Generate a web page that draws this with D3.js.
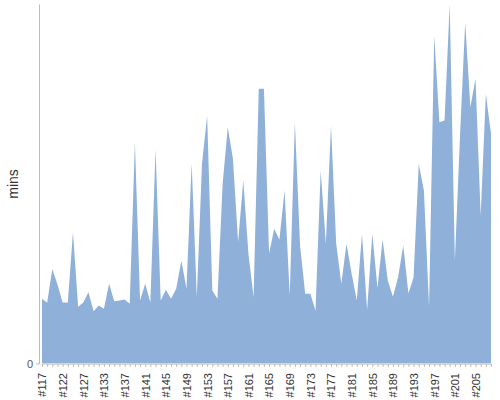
<!DOCTYPE html>
<html>
<head>
<meta charset="utf-8">
<script src="https://cdn.jsdelivr.net/npm/d3@7"></script>
<style>
  body { margin: 0; background: #fff; }
  svg { display: block; font-family: "Liberation Sans", Arial, sans-serif; }
</style>
</head>
<body>
<svg></svg>
<script>
// episode labels, one per data point
let episodes = [
    '#117', '#118', '#119', '#121', '#122', '#123', '#124', '#126', '#127', '#128',
    '#130', '#131', '#133', '#134', '#135', '#136', '#137', '#138', '#139', '#140',
    '#141', '#142', '#143', '#144', '#145', '#146', '#147', '#148', '#149', '#150',
    '#151', '#152', '#153', '#154', '#155', '#156', '#157', '#158', '#159', '#160',
    '#161', '#162', '#163', '#164', '#165', '#166', '#167', '#168', '#169', '#170',
    '#171', '#172', '#173', '#174', '#175', '#176', '#177', '#178', '#179', '#180',
    '#181', '#182', '#183', '#184', '#185', '#186', '#187', '#188', '#189', '#190',
    '#191', '#192', '#193', '#194', '#195', '#196', '#197', '#198', '#199', '#200',
    '#201', '#202', '#203', '#204', '#205', '#206', '#207', '#208'
]

// length of each episode in minutes
let mins = [
    18.0, 16.9, 26.3, 22.0, 17.0, 17.0, 36.5, 15.8, 17.0, 19.8,
    14.5, 16.1, 15.2, 22.2, 17.3, 17.5, 17.8, 16.6, 61.5, 17.5,
    22.2, 17.0, 59.6, 17.5, 20.5, 18.0, 20.8, 28.6, 20.8, 55.7,
    18.4, 55.5, 68.9, 20.3, 18.0, 50.0, 65.7, 56.9, 33.7, 50.9,
    30.5, 18.4, 76.4, 76.4, 30.6, 37.5, 34.4, 48.1, 18.9, 67.1,
    32.8, 19.4, 19.4, 14.7, 53.7, 33.3, 66.2, 33.4, 22.2, 33.3,
    24.9, 17.5, 36.1, 14.9, 36.1, 21.0, 34.5, 23.1, 18.6, 24.0,
    32.8, 19.5, 24.0, 55.5, 48.1, 15.8, 91.2, 67.1, 67.6, 100.0,
    28.6, 63.4, 94.9, 71.3, 79.2, 41.1, 75.0, 63.9
]

let yTicks = [0]

let width = 500
let height = 400
let axisX = 39
let plotTop = 4
let plotBottom = 363.5
let plotLeft = 42
let plotRight = 491

let xScale
let yScale

let svg = d3.select('svg')

let drawCanvas = () => {
    svg.attr('width', width)
       .attr('height', height)
}

let generateScales = () => {
    xScale = d3.scalePoint()
               .domain(episodes)
               .range([plotLeft, plotRight])
    yScale = d3.scaleLinear()
               .domain([0, d3.max(mins)])
               .range([plotBottom, plotTop])
}

let generateArea = () => {
    let area = d3.area()
                 .x((d, i) => xScale(episodes[i]))
                 .y0(yScale(0))
                 .y1(d => yScale(d))
    svg.append('path')
       .datum(mins)
       .attr('d', area)
       .attr('fill', '#8fb0d9')
}

let generateAxis = () => {
    let xAxis = d3.axisBottom(xScale)
                  .tickSize(3)
                  .tickSizeOuter(0)
                  .tickFormat((d, i) => i % 4 == 0 ? d : '')
    let gx = svg.append('g')
                .attr('id', 'x-axis')
                .attr('transform', 'translate(0,' + (plotBottom + 0.5) + ')')
                .call(xAxis)
    gx.select('.domain').attr('stroke', '#d8d8d8')
    gx.selectAll('.tick line').attr('stroke', '#bbb')
    gx.selectAll('.tick text')
      .attr('fill', '#333')
      .style('font-size', '11px')
      .attr('transform', 'rotate(-90)')
      .attr('text-anchor', 'end')
      .attr('x', -9)
      .attr('y', 0)
      .attr('dy', '0.35em')

    let yAxis = d3.axisLeft(yScale)
                  .tickValues(yTicks)
                  .tickSize(3)
                  .tickSizeOuter(0)
    let gy = svg.append('g')
                .attr('id', 'y-axis')
                .attr('transform', 'translate(' + axisX + ',0)')
                .call(yAxis)
    gy.select('.domain').attr('stroke', '#bbb')
    gy.selectAll('.tick line').attr('stroke', '#bbb')
    gy.selectAll('.tick text')
      .attr('fill', '#555')
      .style('font-size', '11px')
      .attr('x', -6)

    svg.append('text')
       .attr('transform', 'translate(18,184) rotate(-90)')
       .attr('text-anchor', 'middle')
       .attr('fill', '#333')
       .style('font-size', '14px')
       .text('mins')
}

drawCanvas()
generateScales()
generateArea()
generateAxis()
</script>
</body>
</html>
